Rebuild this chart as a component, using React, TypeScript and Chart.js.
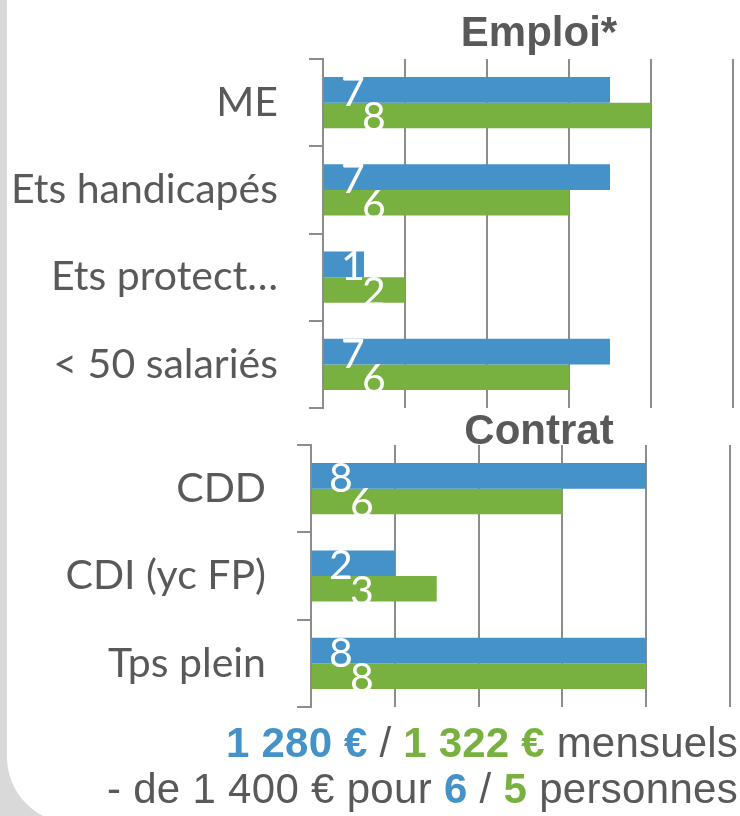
import React, { useEffect, useRef } from 'react';
import { Chart, registerables } from 'chart.js';

Chart.register(...registerables);

// ---- data ----
const emploiCategories = ['ME', 'Ets handicapés', 'Ets protect…', '< 50 salariés'];
const emploiBlue = [7, 7, 1, 7];
const emploiGreen = [8, 6, 2, 6];

const contratCategories = ['CDD', 'CDI (yc FP)', 'Tps plein'];
const contratBlue = [8, 2, 8];
const contratGreen = [6, 3, 8];

const axisMax = 10;
const axisStep = 2;

// ---- styles ----
const BLUE = '#4592c9';
const GREEN = '#78b13f';
const TEXT = '#595959';
const GRID = '#8c8c8c';
const LABEL_FONT = 'Lato';

const barValueLabels = {
  id: 'barValueLabels',
  afterDatasetsDraw(chart: any) {
    const ctx = chart.ctx;
    ctx.save();
    ctx.font = `41px ${LABEL_FONT}`;
    ctx.fillStyle = '#ffffff';
    ctx.textAlign = 'center';
    ctx.textBaseline = 'alphabetic';
    chart.data.datasets.forEach((ds: any, di: number) => {
      const meta = chart.getDatasetMeta(di);
      meta.data.forEach((bar: any, i: number) => {
        const off = di === 0 ? 29 : 50;
        ctx.fillText(String(ds.data[i]), bar.base + off, bar.y + 16);
      });
    });
    ctx.restore();
  },
};

type Layout = { axisX: number; top: number; bottom: number; right: number; width: number; height: number };

function makeConfig(cats: string[], blue: number[], green: number[], lay: Layout): any {
  return {
    type: 'bar',
    data: {
      labels: cats,
      datasets: [
        { data: blue, backgroundColor: BLUE, borderWidth: 0, categoryPercentage: 0.585, barPercentage: 1 },
        { data: green, backgroundColor: GREEN, borderWidth: 0, categoryPercentage: 0.585, barPercentage: 1 },
      ],
    },
    options: {
      indexAxis: 'y',
      responsive: false,
      animation: false,
      devicePixelRatio: 1,
      layout: { padding: { left: 0, top: lay.top, right: lay.right, bottom: lay.bottom } },
      plugins: { legend: { display: false }, tooltip: { enabled: false }, title: { display: false } },
      scales: {
        x: {
          type: 'linear',
          min: 0,
          max: axisMax,
          ticks: { display: false, stepSize: axisStep },
          grid: { color: GRID, lineWidth: 2, drawTicks: false },
          border: { display: false },
          afterFit: (s: any) => {
            s.height = 0;
            s.paddingLeft = 0;
            s.paddingRight = 0;
          },
        },
        y: {
          type: 'category',
          ticks: { color: TEXT, font: { family: LABEL_FONT, size: 41 }, padding: 31, autoSkip: false },
          grid: { drawOnChartArea: false, drawTicks: true, tickLength: 14, color: GRID, lineWidth: 2 },
          border: { display: true, color: GRID, width: 2 },
          afterFit: (s: any) => {
            s.width = lay.axisX;
            s.paddingTop = 0;
            s.paddingBottom = 0;
          },
        },
      },
    },
    plugins: [barValueLabels],
  };
}

function BarPanel(props: { cats: string[]; blue: number[]; green: number[]; lay: Layout; top: number }) {
  const ref = useRef<HTMLCanvasElement | null>(null);
  useEffect(() => {
    if (!ref.current) return;
    const chart = new Chart(ref.current, makeConfig(props.cats, props.blue, props.green, props.lay));
    return () => chart.destroy();
  }, []);
  return (
    <canvas
      ref={ref}
      width={props.lay.width}
      height={props.lay.height}
      style={{ position: 'absolute', left: 0, top: props.top, width: props.lay.width, height: props.lay.height, display: 'block' }}
    />
  );
}

const titleStyle: React.CSSProperties = {
  position: 'absolute',
  left: 339,
  width: 400,
  textAlign: 'center',
  fontFamily: '"Liberation Sans", Arial, sans-serif',
  fontWeight: 'bold',
  fontSize: 42,
  lineHeight: '42px',
  color: TEXT,
  whiteSpace: 'nowrap',
};

const footStyle: React.CSSProperties = {
  position: 'absolute',
  left: 0,
  width: 738,
  textAlign: 'right',
  fontFamily: '"Liberation Sans", Arial, sans-serif',
  fontSize: 42,
  lineHeight: '42px',
  color: TEXT,
  whiteSpace: 'nowrap',
};

export default function App() {
  return (
    <div style={{ position: 'absolute', left: 0, top: 0, width: 740, height: 816, overflow: 'hidden', background: '#d9d9d9' }}>
      <div style={{ position: 'absolute', left: 7, top: -20, width: 780, height: 843, background: '#ffffff', borderBottomLeftRadius: 66 }} />
      <BarPanel
        cats={emploiCategories}
        blue={emploiBlue}
        green={emploiGreen}
        top={0}
        lay={{ axisX: 323, top: 59, bottom: 12, right: 7, width: 740, height: 420 }}
      />
      <BarPanel
        cats={contratCategories}
        blue={contratBlue}
        green={contratGreen}
        top={420}
        lay={{ axisX: 311, top: 25, bottom: 13, right: 10, width: 740, height: 300 }}
      />
      <div style={{ ...titleStyle, top: 11 }}>Emploi*</div>
      <div style={{ ...titleStyle, top: 409 }}>Contrat</div>
      <div style={{ ...footStyle, top: 722, letterSpacing: 0.2 }}>
        <span style={{ color: BLUE, fontWeight: 'bold' }}>1 280 €</span> / <span style={{ color: GREEN, fontWeight: 'bold' }}>1 322 €</span> mensuels
      </div>
      <div style={{ ...footStyle, top: 768, letterSpacing: 0.3 }}>
        - de 1 400 € pour <span style={{ color: BLUE, fontWeight: 'bold' }}>6</span> / <span style={{ color: GREEN, fontWeight: 'bold' }}>5</span> personnes
      </div>
    </div>
  );
}
